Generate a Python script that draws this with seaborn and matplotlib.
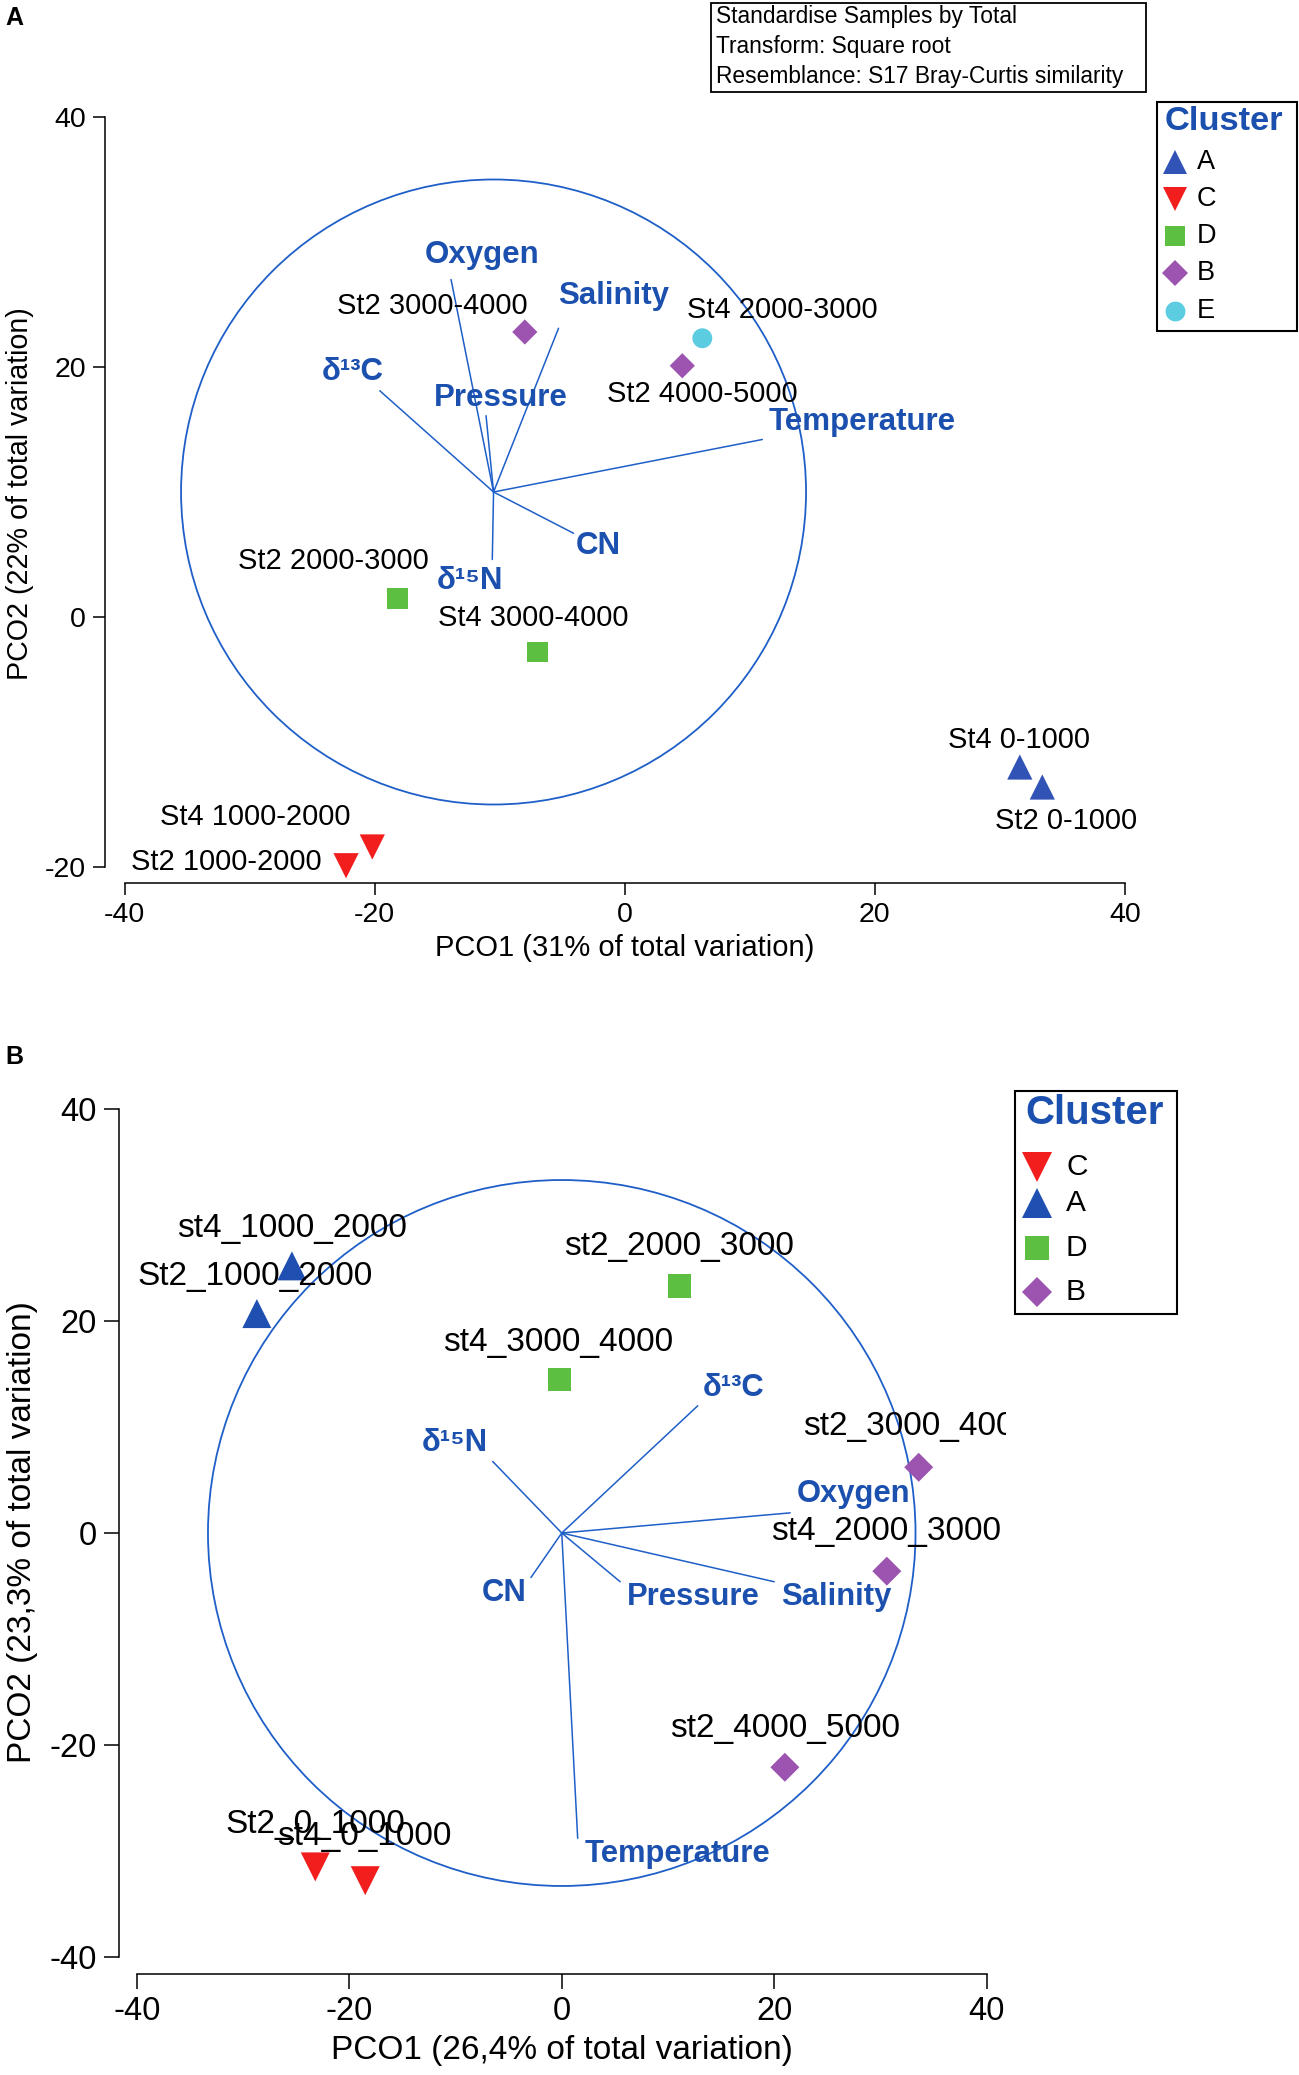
"""PCO ordinations of the two station sets (panels A and B) with vector overlays."""
import pandas as pd
import matplotlib.pyplot as plt
import seaborn as sns
from matplotlib.lines import Line2D
from matplotlib.patches import Circle, Rectangle

sns.set_theme(style="ticks", rc={"axes.edgecolor": "black", "xtick.color": "black",
                                 "ytick.color": "black", "text.color": "black",
                                 "axes.labelcolor": "black"})
plt.rcParams["font.family"] = ["Liberation Sans", "DejaVu Sans"]
plt.rcParams["axes.unicode_minus"] = False

W, H = 1299, 2075
TXT_BLUE = "#1c50ae"
LN_BLUE = "#1f5fc8"
MARKERS = {"A": "^", "B": "D", "C": "v", "D": "s", "E": "o"}
PAL_A = {"A": "#3153b5", "B": "#9c54b0", "C": "#f21e1e", "D": "#5cbf42", "E": "#5ccce0"}
PAL_B = {"A": "#1f4fb0", "B": "#9c54b0", "C": "#f21e1e", "D": "#5cbf42"}

# ---- panel A: samples ------------------------------------------------------
a_samples = ["St2 3000-4000", "St4 2000-3000", "St2 4000-5000", "St2 2000-3000",
             "St4 3000-4000", "St4 1000-2000", "St2 1000-2000", "St4 0-1000", "St2 0-1000"]
a_cluster = ["B", "E", "B", "D", "D", "C", "C", "A", "A"]
a_x = [-8.0, 6.2, 4.6, -18.2, -7.0, -20.2, -22.3, 31.6, 33.4]
a_y = [22.8, 22.3, 20.1, 1.5, -2.8, -18.4, -19.9, -12.0, -13.6]
a_lab_x = [-15.4, 12.6, 6.2, -23.3, -7.3, -29.6, -31.9, 31.5, 35.3]
a_lab_y = [24.9, 24.6, 17.8, 4.5, -0.1, -16.0, -19.6, -9.8, -16.3]
# panel A: vectors (relative to circle centre)
a_vars = ["Oxygen", "Salinity", "δ¹³C", "Pressure", "Temperature", "CN", "δ¹⁵N"]
a_dx = [-3.4, 5.2, -9.1, -0.6, 21.5, 6.4, -0.1]
a_dy = [17.0, 13.1, 8.1, 6.1, 4.2, -3.3, -5.4]
a_vlab_x = [-11.4, -0.9, -21.8, -9.9, 19.0, -2.1, -12.4]
a_vlab_y = [29.0, 25.7, 19.6, 17.5, 15.6, 5.7, 2.9]
a_origin, a_radius = (-10.5, 10.0), 25.0

# ---- panel B: samples ------------------------------------------------------
b_samples = ["st4_1000_2000", "St2_1000_2000", "st2_2000_3000", "st4_3000_4000",
             "st2_3000_4000", "st4_2000_3000", "st2_4000_5000", "St2_0_1000", "st4_0_1000"]
b_cluster = ["A", "A", "D", "D", "B", "B", "B", "C", "C"]
b_x = [-25.4, -28.7, 11.1, -0.2, 33.6, 30.6, 21.0, -23.2, -18.5]
b_y = [25.2, 20.7, 23.3, 14.5, 6.2, -3.6, -22.1, -31.5, -32.8]
b_lab_x = [-25.4, -28.9, 11.0, -0.3, 33.5, 30.5, 21.0, -23.2, -18.6]
b_lab_y = [28.7, 24.2, 27.0, 18.0, 10.0, 0.1, -18.4, -27.5, -28.6]
b_vars = ["δ¹⁵N", "δ¹³C", "Oxygen", "Salinity", "Pressure", "CN", "Temperature"]
b_dx = [-6.5, 12.8, 21.5, 20.0, 5.5, -2.9, 1.5]
b_dy = [6.75, 12.0, 1.9, -4.6, -4.6, -4.2, -28.8]
b_vlab_x = [-10.1, 16.2, 27.5, 25.8, 12.4, -5.4, 10.9]
b_vlab_y = [8.5, 13.7, 3.7, -6.0, -6.0, -5.7, -30.3]
b_origin, b_radius = (0.0, 0.0), 33.3

ticks_a_x, ticks_a_y = [-40, -20, 0, 20, 40], [-20, 0, 20, 40]
ticks_b = [-40, -20, 0, 20, 40]


def fx(px):
    return px / W


def fy(py):
    return 1 - py / H


def draw_panel(ax, df, pal, sizes, dx, dy, names, vlx, vly, origin, radius,
               fs_lab, fs_vec):
    ax.patch.set_visible(False)
    ax.add_patch(Circle(origin, radius, fill=False, ec=LN_BLUE, lw=1.3, clip_on=False))
    for ddx, ddy in zip(dx, dy):
        ax.plot([origin[0], origin[0] + ddx], [origin[1], origin[1] + ddy],
                color=LN_BLUE, lw=1.1, clip_on=False)
    lv = sorted(set(df["cluster"]))
    sns.scatterplot(data=df, x="x", y="y", hue="cluster", style="cluster", size="cluster",
                    palette={k: pal[k] for k in lv}, markers={k: MARKERS[k] for k in lv},
                    sizes={k: sizes[k] for k in lv}, linewidth=0, legend=False,
                    ax=ax, clip_on=False, zorder=3)
    texts = []
    for s, lx, ly in zip(df["sample"], df["lab_x"], df["lab_y"]):
        texts.append(ax.text(lx, ly, s, ha="center", va="center", fontsize=fs_lab))
    for n, lx, ly in zip(names, vlx, vly):
        ax.text(lx, ly, n, ha="center", va="center", fontsize=fs_vec,
                fontweight="bold", color=TXT_BLUE)
    return texts


def style_axes(ax, xt, yt, off_l, off_b, fs, tlen, pad):
    ax.set_xticks(xt)
    ax.set_yticks(yt)
    ax.set_xlim(xt[0], xt[-1])
    ax.set_ylim(yt[0], yt[-1])
    sns.despine(ax=ax, offset={"left": off_l, "bottom": off_b}, trim=True)
    for sp in ("left", "bottom"):
        ax.spines[sp].set_linewidth(1.1)
    ax.tick_params(direction="out", length=tlen, width=1.1, labelsize=fs, pad=pad,
                   bottom=True, left=True)


def draw_legend(fig, box, title, title_xy, title_fs, levels, ys, mx, lx, fs, pal, sizes):
    x0, y0, x1, y1 = box
    fig.add_artist(Rectangle((fx(x0), fy(y1)), (x1 - x0) / W, (y1 - y0) / H,
                             transform=fig.transFigure, fill=False, ec="black", lw=1.5))
    fig.text(fx(title_xy[0]), fy(title_xy[1]), title, ha="center", va="center",
             fontsize=title_fs, fontweight="bold", color=TXT_BLUE)
    for k, y in zip(levels, ys):
        fig.add_artist(Line2D([fx(mx)], [fy(y)], marker=MARKERS[k], ls="none",
                              markersize=sizes[k] ** 0.5, markerfacecolor=pal[k],
                              markeredgewidth=0, transform=fig.transFigure))
        fig.text(fx(lx), fy(y), k, ha="left", va="center", fontsize=fs)


fig = plt.figure(figsize=(W / 100, H / 100), dpi=100, facecolor="white")

# ================= panel A ===================================================
ax_a = fig.add_axes([fx(124.8), fy(867), 1000 / W, 750 / H])
df_a = pd.DataFrame({"x": a_x, "y": a_y, "cluster": a_cluster, "sample": a_samples,
                     "lab_x": a_lab_x, "lab_y": a_lab_y})
sizes_a = {"A": 330, "B": 165, "C": 330, "D": 220, "E": 205}
draw_panel(ax_a, df_a, PAL_A, sizes_a, a_dx, a_dy, a_vars, a_vlab_x, a_vlab_y,
           a_origin, a_radius, 21, 22.5)
style_axes(ax_a, ticks_a_x, ticks_a_y, 14.4, 11.5, 20.5, 8.6, 5)
ax_a.set_xlabel("PCO1 (31% of total variation)", fontsize=21, va="center")
ax_a.xaxis.set_label_coords(fx(624.6), fy(948), transform=fig.transFigure)
ax_a.set_ylabel("PCO2 (22% of total variation)", fontsize=20.6, va="center")
ax_a.yaxis.set_label_coords(fx(20), fy(493.5), transform=fig.transFigure)

# resemblance info box
fig.add_artist(Rectangle((fx(711), fy(92)), 435 / W, 89.3 / H, transform=fig.transFigure,
                         fill=False, ec="black", lw=1.3))
for line, y in zip(["Standardise Samples by Total", "Transform: Square root",
                    "Resemblance: S17 Bray-Curtis similarity"], [17, 46.5, 76]):
    fig.text(fx(716), fy(y), line, ha="left", va="center", fontsize=16.4)

draw_legend(fig, (1157, 102, 1297, 331), "Cluster", (1223.5, 122), 24.8,
            ["A", "C", "D", "B", "E"], [162, 199, 236, 273, 311], 1174.5, 1197, 19.5,
            PAL_A, {"A": 300, "C": 300, "D": 220, "B": 165, "E": 205})
fig.text(fx(14.5), fy(18), "A", ha="center", va="center", fontsize=18, fontweight="bold")

# ================= panel B ===================================================
ax_b = fig.add_axes([fx(136.8), fy(1957), 849.9 / W, 848 / H])
df_b = pd.DataFrame({"x": b_x, "y": b_y, "cluster": b_cluster, "sample": b_samples,
                     "lab_x": b_lab_x, "lab_y": b_lab_y})
sizes_b = {"A": 436, "B": 218, "C": 436, "D": 286}
texts_b = draw_panel(ax_b, df_b, PAL_B, sizes_b, b_dx, b_dy, b_vars, b_vlab_x, b_vlab_y,
                     b_origin, b_radius, 24, 22.3)
# the plotting region cuts the label of the right-most sample
clip = Rectangle((-100, -100), 141.8, 200, transform=ax_b.transData)
for t in texts_b:
    t.set_clip_on(True)
    t.set_clip_path(clip)
style_axes(ax_b, ticks_b, ticks_b, 13, 12.2, 23.5, 10.5, 5.5)
ax_b.set_xlabel("PCO1 (26,4% of total variation)", fontsize=24, va="center")
ax_b.xaxis.set_label_coords(fx(562), fy(2050), transform=fig.transFigure)
ax_b.set_ylabel("PCO2 (23,3% of total variation)", fontsize=24, va="center")
ax_b.yaxis.set_label_coords(fx(22.5), fy(1532), transform=fig.transFigure)

draw_legend(fig, (1015, 1091, 1177, 1314), "Cluster", (1094.5, 1112.7), 29,
            ["C", "A", "D", "B"], [1166.7, 1203.3, 1248.3, 1291.7], 1037, 1066, 21.5,
            PAL_B, {"C": 436, "A": 436, "D": 286, "B": 218})
fig.text(fx(14.5), fy(1057), "B", ha="center", va="center", fontsize=18, fontweight="bold")

fig.savefig("out.png", dpi=100)
